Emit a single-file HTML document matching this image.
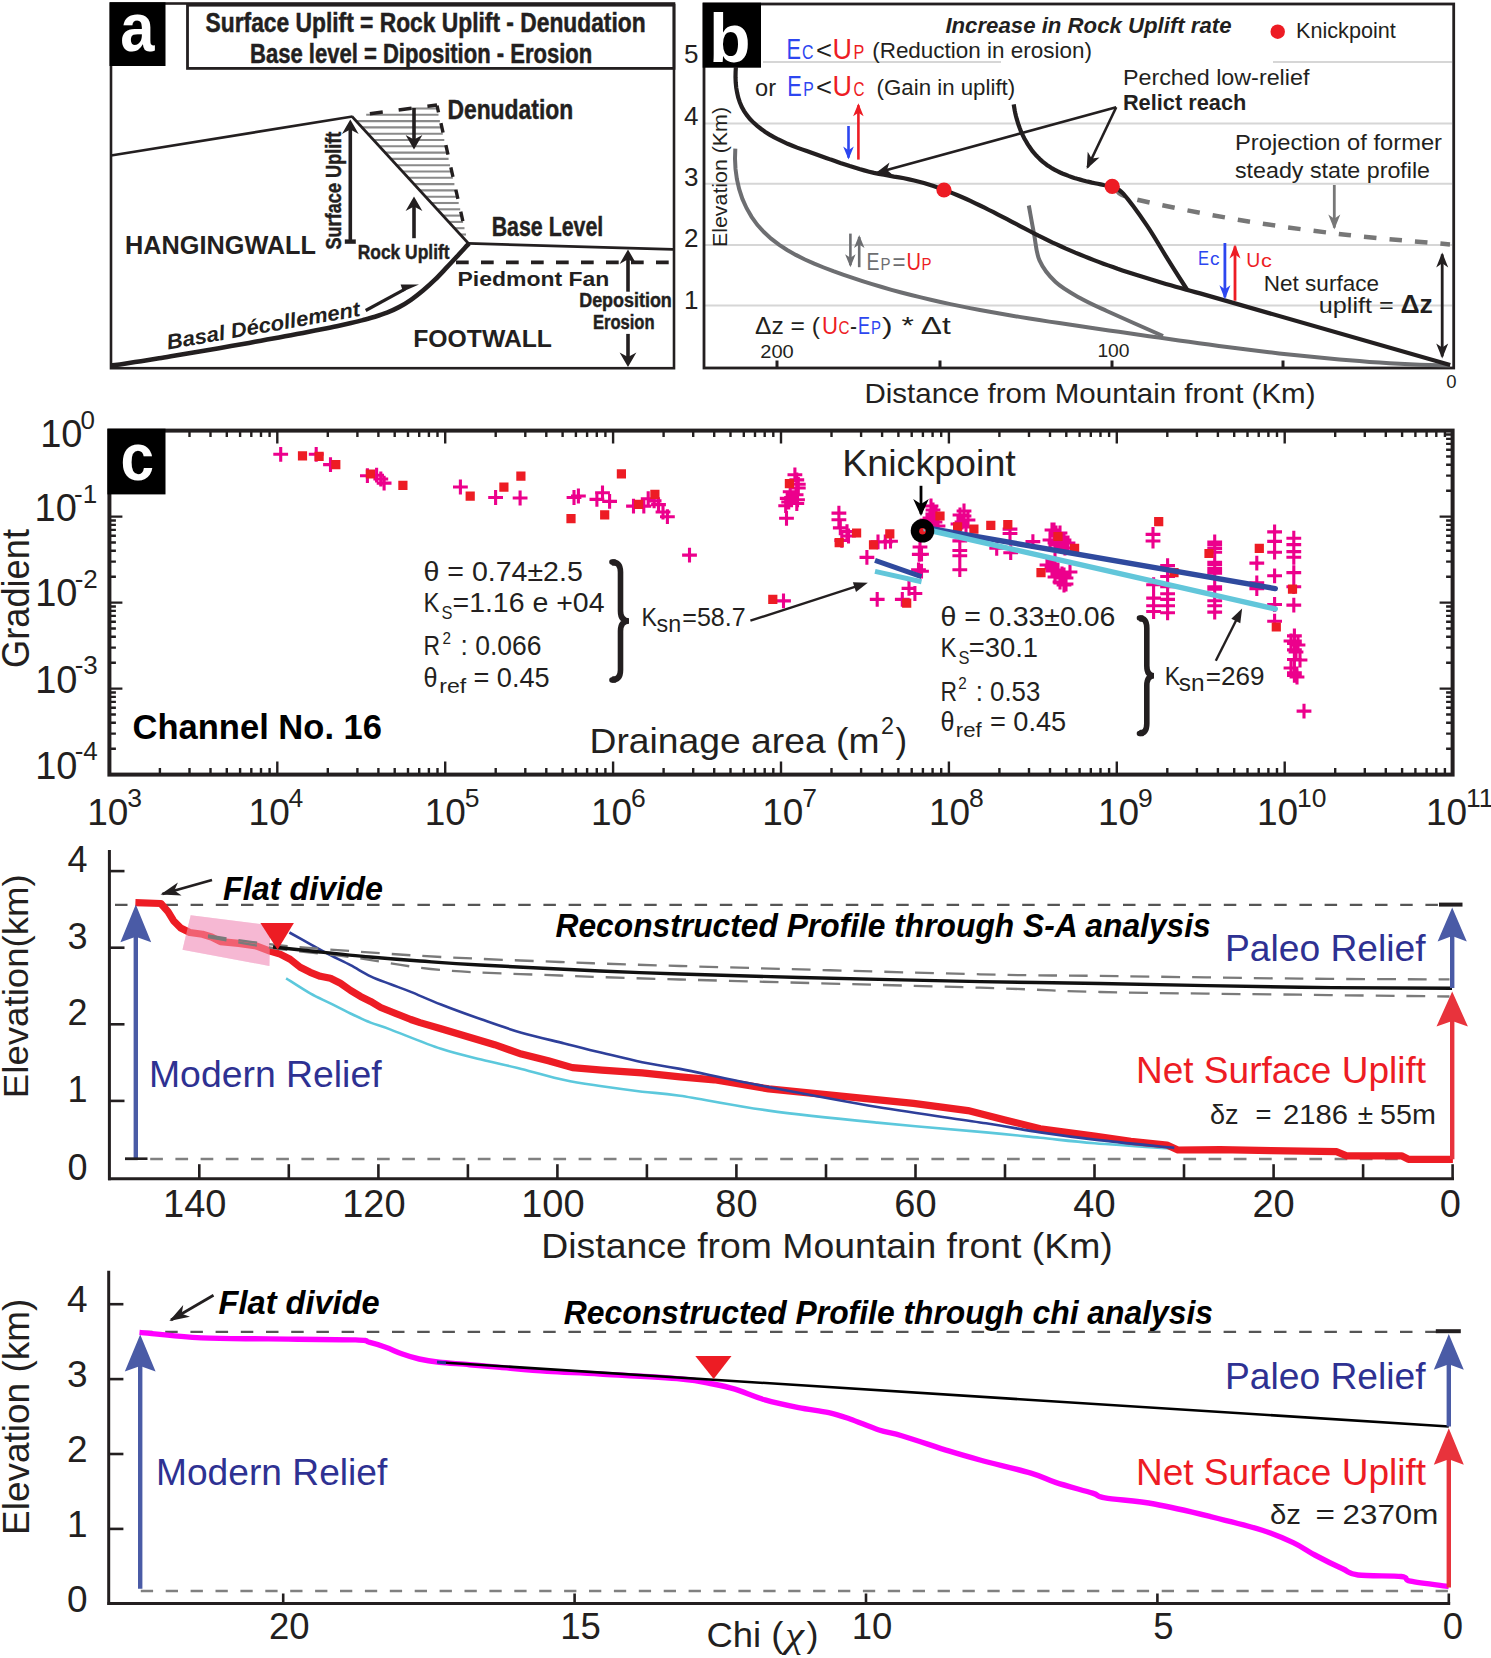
<!DOCTYPE html>
<html><head><meta charset="utf-8"><style>
html,body{margin:0;padding:0;background:#fff;}
svg{display:block;font-family:"Liberation Sans", sans-serif;}
</style></head><body>
<svg width="1491" height="1658" viewBox="0 0 1491 1658">
<rect width="1491" height="1658" fill="#fff"/>
<rect x="111" y="3.5" width="563" height="364.7" fill="none" stroke="#231f20" stroke-width="2.6"/>
<rect x="109.5" y="2.3" width="56" height="63.7" fill="#000"/>
<text x="120.3" y="51.0" font-size="69" fill="#fff" font-weight="bold" textLength="34.2" lengthAdjust="spacingAndGlyphs" >a</text>
<rect x="187.5" y="5.2" width="486.5" height="63.2" fill="none" stroke="#231f20" stroke-width="2.8"/>
<text x="205.6" y="31.5" font-size="27.5" fill="#231f20" font-weight="bold" textLength="440.0" lengthAdjust="spacingAndGlyphs" stroke="#231f20" stroke-width="0.5">Surface Uplift = Rock Uplift - Denudation</text>
<text x="250.0" y="63.0" font-size="27.5" fill="#231f20" font-weight="bold" textLength="342.3" lengthAdjust="spacingAndGlyphs" stroke="#231f20" stroke-width="0.5">Base level = Diposition - Erosion</text>
<line x1="406.9" y1="108.5" x2="437.0" y2="108.5" stroke="#8a8a8a" stroke-width="2.1" />
<line x1="366.2" y1="114.8" x2="438.5" y2="114.8" stroke="#8a8a8a" stroke-width="2.1" />
<line x1="355.8" y1="121.1" x2="439.9" y2="121.1" stroke="#8a8a8a" stroke-width="2.1" />
<line x1="361.6" y1="127.4" x2="441.4" y2="127.4" stroke="#8a8a8a" stroke-width="2.1" />
<line x1="367.4" y1="133.7" x2="442.8" y2="133.7" stroke="#8a8a8a" stroke-width="2.1" />
<line x1="373.2" y1="140.0" x2="444.3" y2="140.0" stroke="#8a8a8a" stroke-width="2.1" />
<line x1="379.0" y1="146.3" x2="445.7" y2="146.3" stroke="#8a8a8a" stroke-width="2.1" />
<line x1="384.8" y1="152.6" x2="447.2" y2="152.6" stroke="#8a8a8a" stroke-width="2.1" />
<line x1="390.6" y1="158.9" x2="448.6" y2="158.9" stroke="#8a8a8a" stroke-width="2.1" />
<line x1="396.4" y1="165.2" x2="450.0" y2="165.2" stroke="#8a8a8a" stroke-width="2.1" />
<line x1="402.2" y1="171.5" x2="451.5" y2="171.5" stroke="#8a8a8a" stroke-width="2.1" />
<line x1="408.0" y1="177.8" x2="452.9" y2="177.8" stroke="#8a8a8a" stroke-width="2.1" />
<line x1="413.8" y1="184.1" x2="454.4" y2="184.1" stroke="#8a8a8a" stroke-width="2.1" />
<line x1="419.6" y1="190.4" x2="455.8" y2="190.4" stroke="#8a8a8a" stroke-width="2.1" />
<line x1="425.4" y1="196.7" x2="457.3" y2="196.7" stroke="#8a8a8a" stroke-width="2.1" />
<line x1="431.2" y1="203.0" x2="458.7" y2="203.0" stroke="#8a8a8a" stroke-width="2.1" />
<line x1="437.0" y1="209.3" x2="460.2" y2="209.3" stroke="#8a8a8a" stroke-width="2.1" />
<line x1="442.8" y1="215.6" x2="461.6" y2="215.6" stroke="#8a8a8a" stroke-width="2.1" />
<line x1="448.6" y1="221.9" x2="463.1" y2="221.9" stroke="#8a8a8a" stroke-width="2.1" />
<line x1="454.4" y1="228.2" x2="464.5" y2="228.2" stroke="#8a8a8a" stroke-width="2.1" />
<line x1="460.2" y1="234.5" x2="466.0" y2="234.5" stroke="#8a8a8a" stroke-width="2.1" />
<path d="M356,115.5 L437,105" stroke="#231f20" stroke-width="3.4" fill="none" stroke-dasharray="0,14,13,16,13,16,10,40"/>
<path d="M437,105.5 L463.5,224" stroke="#231f20" stroke-width="3.4" fill="none" stroke-dasharray="7,11,9.7,13,9.7,13,9.7,13,9.7,13,9.7,13,9.7,13"/>
<line x1="111.0" y1="155.5" x2="352.5" y2="116.5" stroke="#231f20" stroke-width="2.7" />
<line x1="352.0" y1="116.5" x2="468.5" y2="243.5" stroke="#231f20" stroke-width="2.6" />
<line x1="468.0" y1="243.4" x2="673.0" y2="249.4" stroke="#231f20" stroke-width="2.8" />
<line x1="456.0" y1="262.4" x2="673.0" y2="262.4" stroke="#231f20" stroke-width="3.6" stroke-dasharray="12.7,12.3"/>
<path d="M111.0,365.5 C113.0,365.2 119.0,364.6 123.0,364.0 C127.0,363.4 131.0,362.7 135.0,362.1 C139.0,361.5 143.0,360.8 147.0,360.2 C151.0,359.6 155.0,358.9 159.0,358.3 C163.0,357.7 167.0,357.0 171.0,356.3 C175.0,355.6 179.0,355.0 183.0,354.3 C187.0,353.6 191.0,353.0 195.0,352.3 C199.0,351.6 203.0,350.9 207.0,350.2 C211.0,349.5 215.0,348.9 219.0,348.2 C223.0,347.5 227.0,346.8 231.0,346.1 C235.0,345.4 239.0,344.7 243.0,344.0 C247.0,343.3 251.0,342.5 255.0,341.8 C259.0,341.1 263.0,340.3 267.0,339.6 C271.0,338.9 275.0,338.1 279.0,337.4 C283.0,336.7 287.0,335.9 291.0,335.2 C295.0,334.4 299.0,333.7 303.0,332.9 C307.0,332.1 311.0,331.4 315.0,330.6 C319.0,329.8 323.0,329.0 327.0,328.2 C331.0,327.4 335.0,326.6 339.0,325.7 C343.0,324.8 347.0,323.9 351.0,323.0 C355.0,322.1 359.0,321.2 363.0,320.1 C367.0,319.1 371.0,317.9 375.0,316.7 C379.0,315.5 383.0,314.3 387.0,312.7 C391.0,311.1 395.0,309.2 399.0,307.1 C403.0,305.0 407.0,302.6 411.0,299.8 C415.0,297.1 419.0,294.0 423.0,290.6 C427.0,287.2 431.0,283.6 435.0,279.7 C439.0,275.8 443.0,271.4 447.0,267.2 C451.0,263.0 455.3,258.3 459.0,254.3 C462.7,250.3 467.3,245.2 469.0,243.4" stroke="#231f20" stroke-width="4.6" fill="none" stroke-linecap="butt"/>
<line x1="365.7" y1="310.5" x2="405.0" y2="289.2" stroke="#231f20" stroke-width="3.2" />
<path d="M400.6,284.6 L419,284.6 L403,291.5 Z" fill="#231f20"/>
<line x1="350.3" y1="241.6" x2="350.3" y2="128.5" stroke="#231f20" stroke-width="3.6" />
<path d="M350.3,119.5 L358.7,134.0 L350.3,129.4 L341.9,134.0 Z" fill="#231f20"/>
<line x1="344.8" y1="241.6" x2="355.8" y2="241.6" stroke="#231f20" stroke-width="4.4" />
<line x1="414.0" y1="238.2" x2="414.0" y2="205.6" stroke="#231f20" stroke-width="3.6" />
<path d="M414.0,196.6 L422.4,211.1 L414.0,206.5 L405.6,211.1 Z" fill="#231f20"/>
<line x1="414.0" y1="108.0" x2="414.0" y2="140.5" stroke="#231f20" stroke-width="3.6" />
<path d="M414.0,149.5 L422.4,135.0 L414.0,139.6 L405.6,135.0 Z" fill="#231f20"/>
<line x1="628.0" y1="291.7" x2="628.0" y2="258.4" stroke="#231f20" stroke-width="3.6" />
<path d="M628.0,249.4 L636.4,263.9 L628.0,259.3 L619.6,263.9 Z" fill="#231f20"/>
<line x1="628.0" y1="333.9" x2="628.0" y2="358.0" stroke="#231f20" stroke-width="3.6" />
<path d="M628.0,367.0 L636.4,352.5 L628.0,357.1 L619.6,352.5 Z" fill="#231f20"/>
<text x="447.4" y="118.7" font-size="27" fill="#231f20" font-weight="bold" textLength="125.8" lengthAdjust="spacingAndGlyphs" stroke="#231f20" stroke-width="0.45">Denudation</text>
<text x="125.0" y="253.5" font-size="26" fill="#231f20" font-weight="bold" textLength="191.0" lengthAdjust="spacingAndGlyphs" >HANGINGWALL</text>
<text x="357.7" y="259.0" font-size="21" fill="#231f20" font-weight="bold" textLength="91.9" lengthAdjust="spacingAndGlyphs" stroke="#231f20" stroke-width="0.45">Rock Uplift</text>
<text x="491.7" y="236.3" font-size="27" fill="#231f20" font-weight="bold" textLength="111.6" lengthAdjust="spacingAndGlyphs" stroke="#231f20" stroke-width="0.45">Base Level</text>
<text x="457.5" y="286.2" font-size="20.5" fill="#231f20" font-weight="bold" textLength="151.9" lengthAdjust="spacingAndGlyphs" >Piedmont Fan</text>
<text x="579.2" y="307.2" font-size="20" fill="#231f20" font-weight="bold" textLength="92.6" lengthAdjust="spacingAndGlyphs" stroke="#231f20" stroke-width="0.45">Deposition</text>
<text x="592.9" y="328.9" font-size="19.5" fill="#231f20" font-weight="bold" textLength="61.7" lengthAdjust="spacingAndGlyphs" stroke="#231f20" stroke-width="0.45">Erosion</text>
<text x="413.2" y="347.4" font-size="24" fill="#231f20" font-weight="bold" textLength="138.8" lengthAdjust="spacingAndGlyphs" >FOOTWALL</text>
<text transform="translate(341,249.6) rotate(-90)" font-size="22" font-weight="bold" fill="#231f20" textLength="118" lengthAdjust="spacingAndGlyphs" stroke="#231f20" stroke-width="0.45">Surface Uplift</text>
<text transform="translate(168,349.5) rotate(-9.9)" font-size="21" font-weight="bold" font-style="italic" fill="#231f20" textLength="196" lengthAdjust="spacingAndGlyphs">Basal Décollement</text>
<line x1="763.0" y1="62.0" x2="1001.0" y2="62.0" stroke="#d6d6d6" stroke-width="2" />
<line x1="1273.0" y1="62.0" x2="1452.0" y2="62.0" stroke="#d6d6d6" stroke-width="2" />
<line x1="705.0" y1="123.4" x2="1452.0" y2="123.4" stroke="#d6d6d6" stroke-width="2" />
<line x1="705.0" y1="183.8" x2="1452.0" y2="183.8" stroke="#d6d6d6" stroke-width="2" />
<line x1="705.0" y1="245.0" x2="1452.0" y2="245.0" stroke="#d6d6d6" stroke-width="2" />
<line x1="705.0" y1="305.6" x2="1452.0" y2="305.6" stroke="#d6d6d6" stroke-width="2" />
<rect x="704" y="4" width="749.7" height="364" fill="none" stroke="#231f20" stroke-width="2.8"/>
<rect x="702.7" y="2.7" width="58.3" height="65" fill="#000"/>
<text x="729.8" y="62.4" font-size="68" fill="#fff" font-weight="bold" text-anchor="middle" >b</text>
<line x1="777.0" y1="368.0" x2="777.0" y2="360.5" stroke="#231f20" stroke-width="3" />
<line x1="940.0" y1="368.0" x2="940.0" y2="360.5" stroke="#231f20" stroke-width="3" />
<line x1="1112.0" y1="368.0" x2="1112.0" y2="360.5" stroke="#231f20" stroke-width="3" />
<line x1="1283.0" y1="368.0" x2="1283.0" y2="360.5" stroke="#231f20" stroke-width="3" />
<text x="698.5" y="63.0" font-size="26" fill="#231f20" text-anchor="end" >5</text>
<text x="698.5" y="124.7" font-size="26" fill="#231f20" text-anchor="end" >4</text>
<text x="698.5" y="186.4" font-size="26" fill="#231f20" text-anchor="end" >3</text>
<text x="698.5" y="247.0" font-size="26" fill="#231f20" text-anchor="end" >2</text>
<text x="698.5" y="308.7" font-size="26" fill="#231f20" text-anchor="end" >1</text>
<text transform="translate(727,247) rotate(-90)" font-size="20" fill="#231f20" textLength="140" lengthAdjust="spacingAndGlyphs">Elevation (Km)</text>
<path d="M735.3,148.6 L735.0,158.7 L735.5,168.9 L736.9,179.2 L739.2,189.2 L742.4,198.9 L746.6,208.2 L751.6,216.8 L757.3,224.8 L763.9,232.0 L771.1,238.6 L778.9,244.6 L787.1,250.0 L795.8,254.9 L804.9,259.5 L814.2,263.6 L823.7,267.5 L833.3,271.2 L843.0,274.6 L852.7,277.9 L862.4,281.1 L872.1,284.1 L881.8,287.0 L891.5,289.8 L901.3,292.5 L911.1,295.0 L920.9,297.4 L930.7,299.7 L940.5,302.0 L950.3,304.1 L960.2,306.1 L970.0,308.1 L979.9,310.0 L989.7,311.8 L999.6,313.5 L1009.5,315.2 L1019.4,316.9 L1029.4,318.5 L1039.3,320.0 L1049.2,321.6 L1059.2,323.1 L1069.1,324.5 L1079.1,326.0 L1089.0,327.5 L1099.0,328.9 L1109.0,330.4 L1118.9,331.8 L1128.9,333.3 L1138.9,334.7 L1148.9,336.2 L1158.9,337.6 L1168.9,339.0 L1178.9,340.4 L1188.9,341.8 L1198.9,343.2 L1208.9,344.6 L1218.9,345.9 L1229.0,347.2 L1239.0,348.5 L1249.0,349.8 L1259.0,351.0 L1269.1,352.2 L1279.1,353.4 L1289.1,354.5 L1299.2,355.6 L1309.2,356.6 L1319.3,357.6 L1329.3,358.6 L1339.4,359.5 L1349.4,360.3 L1359.5,361.1 L1369.5,361.9 L1379.6,362.6 L1389.6,363.2 L1399.7,363.7 L1409.7,364.2 L1419.8,364.7 L1429.8,365.0 L1439.9,365.3 L1449.9,365.5" stroke="#6d6e71" stroke-width="4" fill="none" />
<path d="M1028.8,205.5 C1029.7,210.2 1032.2,224.4 1034.0,233.6 C1035.8,242.8 1035.9,252.3 1039.5,260.4 C1043.1,268.5 1048.8,275.7 1055.6,282.0 C1062.3,288.3 1071.5,293.2 1080.0,298.0 C1088.5,302.8 1093.0,304.7 1106.8,311.0 C1120.6,317.3 1153.6,331.8 1163.0,336.0" stroke="#6d6e71" stroke-width="4" fill="none" />
<path d="M1116.0,188.5 C1118.9,190.2 1112.8,193.5 1133.6,198.8 C1154.4,204.1 1205.3,214.2 1241.0,220.2 C1276.7,226.2 1313.2,231.0 1348.0,235.0 C1382.8,239.0 1433.0,242.8 1450.0,244.4" stroke="#777" stroke-width="4.5" fill="none" stroke-dasharray="12.5,13"/>
<path d="M735.9,66.8 L735.6,72.0 L735.5,77.2 L735.7,82.3 L736.2,87.5 L737.1,92.5 L738.2,97.5 L739.8,102.2 L741.7,106.8 L744.1,111.1 L746.9,115.2 L750.0,119.0 L753.5,122.6 L757.2,125.9 L761.2,129.0 L765.3,131.9 L769.5,134.6 L773.9,137.1 L778.4,139.5 L783.0,141.7 L787.6,143.8 L792.4,145.7 L797.1,147.6 L802.0,149.4 L806.8,151.1 L811.6,152.8 L816.5,154.5 L821.3,156.2 L826.1,157.9 L830.8,159.6 L835.6,161.2 L840.3,162.9 L845.1,164.5 L849.8,166.1 L854.6,167.6 L859.4,169.1 L864.2,170.4 L869.1,171.7 L874.0,172.9 L878.9,173.9 L883.9,174.8 L889.0,175.7 L894.0,176.6 L899.1,177.4 L904.1,178.3 L909.1,179.4 L914.1,180.5 L919.0,181.7 L923.9,183.1 L928.7,184.5 L933.5,186.1 L938.3,187.7 L943.0,189.4 L947.7,191.2 L952.4,193.1 L957.0,195.0 L961.7,197.0 L966.3,199.0 L970.9,201.1 L975.4,203.3 L980.0,205.5 L984.5,207.7 L989.0,210.0 L993.5,212.2 L998.0,214.6 L1002.5,216.9 L1007.0,219.2 L1011.5,221.6 L1016.0,223.9 L1020.5,226.3 L1025.0,228.6 L1029.5,231.0 L1034.0,233.3 L1038.5,235.6 L1043.1,237.8 L1047.6,240.1 L1052.1,242.3 L1056.7,244.4 L1061.3,246.5 L1065.9,248.6 L1070.6,250.6 L1075.2,252.6 L1079.9,254.5 L1084.5,256.4 L1089.2,258.3 L1093.9,260.1 L1098.6,261.9 L1103.4,263.7 L1108.1,265.4 L1112.9,267.1 L1117.6,268.8 L1122.4,270.4 L1127.2,272.0 L1132.0,273.6 L1136.8,275.1 L1141.7,276.6 L1146.5,278.1 L1151.3,279.6 L1156.2,281.1 L1161.0,282.5 L1165.9,283.9 L1170.8,285.3 L1175.6,286.7 L1180.5,288.1 L1185.4,289.4 L1190.3,290.8 L1195.2,292.1 L1200.1,293.4 L1450.2,365.1" stroke="#231f20" stroke-width="4.2" fill="none" />
<path d="M1013.7,104.4 L1014.2,107.4 L1014.7,110.4 L1015.3,113.3 L1016.0,116.3 L1016.8,119.2 L1017.7,122.1 L1018.6,125.0 L1019.6,127.8 L1020.7,130.6 L1021.9,133.4 L1023.2,136.1 L1024.5,138.7 L1026.0,141.3 L1027.5,143.9 L1029.1,146.3 L1030.8,148.7 L1032.5,151.1 L1034.4,153.3 L1036.3,155.5 L1038.3,157.6 L1040.4,159.7 L1042.6,161.6 L1044.9,163.4 L1047.2,165.2 L1049.7,166.8 L1052.2,168.4 L1054.8,169.8 L1057.4,171.2 L1060.1,172.5 L1062.9,173.7 L1065.7,174.8 L1068.5,175.9 L1071.4,176.9 L1074.3,177.9 L1077.2,178.8 L1080.2,179.6 L1083.1,180.4 L1086.1,181.2 L1089.0,181.9 L1092.0,182.6 L1094.9,183.2 L1097.8,183.8 L1100.7,184.4 L1103.6,185.0 L1106.4,185.5 L1109.2,186.1 L1112.0,186.6" stroke="#231f20" stroke-width="4.2" fill="none" />
<path d="M1112.2,186.4 C1114.0,187.6 1117.2,186.9 1123.0,193.4 C1128.8,199.9 1139.4,214.4 1147.0,225.6 C1154.6,236.8 1161.8,249.7 1168.5,260.4 C1175.2,271.1 1184.2,285.1 1187.3,290.0" stroke="#231f20" stroke-width="4.2" fill="none" />
<circle cx="944" cy="190" r="7.6" fill="#ed1c24"/>
<circle cx="1112.2" cy="186.4" r="7.6" fill="#ed1c24"/>
<circle cx="1277.7" cy="31.7" r="7.2" fill="#ed1c24"/>
<text x="1296.0" y="37.6" font-size="21.5" fill="#231f20" textLength="99.8" lengthAdjust="spacingAndGlyphs" >Knickpoint</text>
<line x1="1116.2" y1="107.3" x2="877.7" y2="172.5" stroke="#231f20" stroke-width="2.6" />
<path d="M875.8,173.0 L889.5,162.5 L886.9,170.0 L892.9,175.1 Z" fill="#231f20"/>
<line x1="1116.2" y1="107.3" x2="1087.6" y2="167.2" stroke="#231f20" stroke-width="2.6" />
<path d="M1086.7,169.0 L1087.7,151.8 L1091.7,158.6 L1099.5,157.4 Z" fill="#231f20"/>
<line x1="848.5" y1="126.0" x2="848.5" y2="157.6" stroke="#2d46f0" stroke-width="2.6" />
<path d="M848.5,159.6 L843.2,146.6 L848.5,150.2 L853.8,146.6 Z" fill="#2d46f0"/>
<line x1="858.4" y1="159.6" x2="858.4" y2="105.3" stroke="#ed1c24" stroke-width="2.6" />
<path d="M858.4,103.3 L863.6,116.3 L858.4,112.7 L853.1,116.3 Z" fill="#ed1c24"/>
<line x1="850.4" y1="233.6" x2="850.4" y2="265.2" stroke="#6d6e71" stroke-width="2.6" />
<path d="M850.4,267.2 L845.1,254.2 L850.4,257.8 L855.6,254.2 Z" fill="#6d6e71"/>
<line x1="859.2" y1="267.2" x2="859.2" y2="237.0" stroke="#6d6e71" stroke-width="2.6" />
<path d="M859.2,235.0 L864.5,248.0 L859.2,244.4 L854.0,248.0 Z" fill="#6d6e71"/>
<line x1="1224.9" y1="243.0" x2="1224.9" y2="297.3" stroke="#2d46f0" stroke-width="2.8" />
<path d="M1224.9,299.3 L1219.4,285.3 L1224.9,289.2 L1230.4,285.3 Z" fill="#2d46f0"/>
<line x1="1235.0" y1="300.7" x2="1235.0" y2="246.4" stroke="#ed1c24" stroke-width="2.8" />
<path d="M1235.0,244.4 L1240.5,258.4 L1235.0,254.5 L1229.5,258.4 Z" fill="#ed1c24"/>
<line x1="1334.3" y1="185.0" x2="1334.3" y2="227.6" stroke="#777" stroke-width="2.8" />
<path d="M1334.3,229.6 L1328.3,214.6 L1334.3,218.8 L1340.3,214.6 Z" fill="#777"/>
<line x1="1442.2" y1="305.0" x2="1442.2" y2="254.4" stroke="#231f20" stroke-width="2.8" />
<path d="M1442.2,252.4 L1448.2,267.4 L1442.2,263.2 L1436.2,267.4 Z" fill="#231f20"/>
<line x1="1442.2" y1="305.0" x2="1442.2" y2="356.4" stroke="#231f20" stroke-width="2.8" />
<path d="M1442.2,358.4 L1436.2,343.4 L1442.2,347.6 L1448.2,343.4 Z" fill="#231f20"/>
<text x="945.4" y="33.1" font-size="22.5" fill="#231f20" font-weight="bold" font-style="italic" textLength="286.2" lengthAdjust="spacingAndGlyphs" >Increase in Rock Uplift rate</text>
<text x="786.6" y="59.0" font-size="30" fill="#2d46f0" textLength="14.5" lengthAdjust="spacingAndGlyphs" >E</text>
<text x="802.0" y="59.0" font-size="21" fill="#2d46f0" textLength="11.5" lengthAdjust="spacingAndGlyphs" >C</text>
<text x="816.0" y="59.0" font-size="26" fill="#231f20" textLength="16.0" lengthAdjust="spacingAndGlyphs" >&lt;</text>
<text x="832.5" y="59.0" font-size="30" fill="#ed1c24" textLength="19.5" lengthAdjust="spacingAndGlyphs" >U</text>
<text x="853.6" y="59.0" font-size="21" fill="#ed1c24" textLength="10.8" lengthAdjust="spacingAndGlyphs" >P</text>
<text x="872.2" y="58.4" font-size="22" fill="#231f20" textLength="219.7" lengthAdjust="spacingAndGlyphs" >(Reduction in erosion)</text>
<text x="755.0" y="96.0" font-size="24" fill="#231f20" textLength="21.0" lengthAdjust="spacingAndGlyphs" >or</text>
<text x="787.2" y="96.0" font-size="30" fill="#2d46f0" textLength="14.5" lengthAdjust="spacingAndGlyphs" >E</text>
<text x="803.3" y="96.0" font-size="21" fill="#2d46f0" textLength="10.5" lengthAdjust="spacingAndGlyphs" >P</text>
<text x="816.0" y="96.0" font-size="26" fill="#231f20" textLength="16.0" lengthAdjust="spacingAndGlyphs" >&lt;</text>
<text x="832.5" y="96.0" font-size="30" fill="#ed1c24" textLength="19.5" lengthAdjust="spacingAndGlyphs" >U</text>
<text x="853.6" y="96.0" font-size="21" fill="#ed1c24" textLength="11.0" lengthAdjust="spacingAndGlyphs" >C</text>
<text x="876.6" y="95.0" font-size="22" fill="#231f20" textLength="138.6" lengthAdjust="spacingAndGlyphs" >(Gain in uplift)</text>
<text x="1122.9" y="84.5" font-size="22.5" fill="#231f20" textLength="186.5" lengthAdjust="spacingAndGlyphs" >Perched low-relief</text>
<text x="1122.9" y="110.0" font-size="22.5" fill="#231f20" font-weight="bold" textLength="123.4" lengthAdjust="spacingAndGlyphs" >Relict reach</text>
<text x="1235.0" y="150.0" font-size="22.5" fill="#231f20" textLength="207.0" lengthAdjust="spacingAndGlyphs" >Projection of former</text>
<text x="1235.0" y="178.4" font-size="22.5" fill="#231f20" textLength="195.0" lengthAdjust="spacingAndGlyphs" >steady state profile</text>
<text x="1263.8" y="291.3" font-size="22.5" fill="#231f20" textLength="115.2" lengthAdjust="spacingAndGlyphs" >Net surface</text>
<text x="1318.8" y="312.7" font-size="22.5" fill="#231f20" textLength="75.0" lengthAdjust="spacingAndGlyphs" >uplift =</text>
<text x="1400.4" y="312.7" font-size="26" fill="#231f20" font-weight="bold" textLength="32.4" lengthAdjust="spacingAndGlyphs" >Δz</text>
<text x="866.5" y="269.9" font-size="23" fill="#6d6e71" textLength="13.0" lengthAdjust="spacingAndGlyphs" >E</text>
<text x="880.5" y="269.9" font-size="17" fill="#6d6e71" textLength="10.0" lengthAdjust="spacingAndGlyphs" >P</text>
<text x="892.5" y="269.9" font-size="23" fill="#6d6e71" textLength="13.0" lengthAdjust="spacingAndGlyphs" >=</text>
<text x="906.5" y="269.9" font-size="23" fill="#ed1c24" textLength="14.5" lengthAdjust="spacingAndGlyphs" >U</text>
<text x="921.5" y="269.9" font-size="17" fill="#ed1c24" textLength="10.0" lengthAdjust="spacingAndGlyphs" >P</text>
<text x="1198.0" y="265.3" font-size="21" fill="#2d46f0" textLength="11.0" lengthAdjust="spacingAndGlyphs" >E</text>
<text x="1210.0" y="265.3" font-size="19" fill="#2d46f0" textLength="9.5" lengthAdjust="spacingAndGlyphs" >c</text>
<text x="1246.3" y="267.2" font-size="21" fill="#ed1c24" textLength="14.0" lengthAdjust="spacingAndGlyphs" >U</text>
<text x="1261.0" y="267.2" font-size="19" fill="#ed1c24" textLength="10.8" lengthAdjust="spacingAndGlyphs" >c</text>
<text x="755.0" y="334.0" font-size="24" fill="#231f20" textLength="65.0" lengthAdjust="spacingAndGlyphs" >Δz = (</text>
<text x="822.0" y="334.0" font-size="24" fill="#ed1c24" textLength="16.0" lengthAdjust="spacingAndGlyphs" >U</text>
<text x="838.5" y="334.0" font-size="18" fill="#ed1c24" textLength="11.0" lengthAdjust="spacingAndGlyphs" >C</text>
<text x="850.0" y="334.0" font-size="24" fill="#231f20" textLength="7.0" lengthAdjust="spacingAndGlyphs" >-</text>
<text x="858.0" y="334.0" font-size="24" fill="#2d46f0" textLength="12.0" lengthAdjust="spacingAndGlyphs" >E</text>
<text x="871.0" y="334.0" font-size="18" fill="#2d46f0" textLength="10.0" lengthAdjust="spacingAndGlyphs" >P</text>
<text x="882.0" y="334.0" font-size="24" fill="#231f20" textLength="68.8" lengthAdjust="spacingAndGlyphs" >) * Δt</text>
<text x="777.0" y="358.0" font-size="18.5" fill="#231f20" text-anchor="middle" textLength="33.5" lengthAdjust="spacingAndGlyphs" >200</text>
<text x="1113.5" y="357.0" font-size="18.5" fill="#231f20" text-anchor="middle" textLength="32.2" lengthAdjust="spacingAndGlyphs" >100</text>
<text x="1451.3" y="388.0" font-size="18.5" fill="#231f20" text-anchor="middle" >0</text>
<text x="864.5" y="402.5" font-size="28.5" fill="#231f20" textLength="451.0" lengthAdjust="spacingAndGlyphs" >Distance from Mountain front (Km)</text>
<path d="M159.9,430.6 v6.5 M159.9,774.6 v-6.5 M189.5,430.6 v6.5 M189.5,774.6 v-6.5 M210.5,430.6 v6.5 M210.5,774.6 v-6.5 M226.8,430.6 v6.5 M226.8,774.6 v-6.5 M240.1,430.6 v6.5 M240.1,774.6 v-6.5 M251.3,430.6 v6.5 M251.3,774.6 v-6.5 M261.0,430.6 v6.5 M261.0,774.6 v-6.5 M269.6,430.6 v6.5 M269.6,774.6 v-6.5 M277.3,430.6 v13 M277.3,774.6 v-13 M327.8,430.6 v6.5 M327.8,774.6 v-6.5 M357.4,430.6 v6.5 M357.4,774.6 v-6.5 M378.4,430.6 v6.5 M378.4,774.6 v-6.5 M394.7,430.6 v6.5 M394.7,774.6 v-6.5 M408.0,430.6 v6.5 M408.0,774.6 v-6.5 M419.2,430.6 v6.5 M419.2,774.6 v-6.5 M428.9,430.6 v6.5 M428.9,774.6 v-6.5 M437.5,430.6 v6.5 M437.5,774.6 v-6.5 M445.2,430.6 v13 M445.2,774.6 v-13 M495.7,430.6 v6.5 M495.7,774.6 v-6.5 M525.3,430.6 v6.5 M525.3,774.6 v-6.5 M546.3,430.6 v6.5 M546.3,774.6 v-6.5 M562.6,430.6 v6.5 M562.6,774.6 v-6.5 M575.9,430.6 v6.5 M575.9,774.6 v-6.5 M587.1,430.6 v6.5 M587.1,774.6 v-6.5 M596.8,430.6 v6.5 M596.8,774.6 v-6.5 M605.4,430.6 v6.5 M605.4,774.6 v-6.5 M613.1,430.6 v13 M613.1,774.6 v-13 M663.6,430.6 v6.5 M663.6,774.6 v-6.5 M693.2,430.6 v6.5 M693.2,774.6 v-6.5 M714.2,430.6 v6.5 M714.2,774.6 v-6.5 M730.5,430.6 v6.5 M730.5,774.6 v-6.5 M743.8,430.6 v6.5 M743.8,774.6 v-6.5 M755.0,430.6 v6.5 M755.0,774.6 v-6.5 M764.7,430.6 v6.5 M764.7,774.6 v-6.5 M773.3,430.6 v6.5 M773.3,774.6 v-6.5 M781.0,430.6 v13 M781.0,774.6 v-13 M831.5,430.6 v6.5 M831.5,774.6 v-6.5 M861.1,430.6 v6.5 M861.1,774.6 v-6.5 M882.1,430.6 v6.5 M882.1,774.6 v-6.5 M898.4,430.6 v6.5 M898.4,774.6 v-6.5 M911.7,430.6 v6.5 M911.7,774.6 v-6.5 M922.9,430.6 v6.5 M922.9,774.6 v-6.5 M932.6,430.6 v6.5 M932.6,774.6 v-6.5 M941.2,430.6 v6.5 M941.2,774.6 v-6.5 M948.9,430.6 v13 M948.9,774.6 v-13 M999.4,430.6 v6.5 M999.4,774.6 v-6.5 M1029.0,430.6 v6.5 M1029.0,774.6 v-6.5 M1050.0,430.6 v6.5 M1050.0,774.6 v-6.5 M1066.3,430.6 v6.5 M1066.3,774.6 v-6.5 M1079.6,430.6 v6.5 M1079.6,774.6 v-6.5 M1090.8,430.6 v6.5 M1090.8,774.6 v-6.5 M1100.5,430.6 v6.5 M1100.5,774.6 v-6.5 M1109.1,430.6 v6.5 M1109.1,774.6 v-6.5 M1116.8,430.6 v13 M1116.8,774.6 v-13 M1167.3,430.6 v6.5 M1167.3,774.6 v-6.5 M1196.9,430.6 v6.5 M1196.9,774.6 v-6.5 M1217.9,430.6 v6.5 M1217.9,774.6 v-6.5 M1234.2,430.6 v6.5 M1234.2,774.6 v-6.5 M1247.5,430.6 v6.5 M1247.5,774.6 v-6.5 M1258.7,430.6 v6.5 M1258.7,774.6 v-6.5 M1268.4,430.6 v6.5 M1268.4,774.6 v-6.5 M1277.0,430.6 v6.5 M1277.0,774.6 v-6.5 M1284.7,430.6 v13 M1284.7,774.6 v-13 M1335.2,430.6 v6.5 M1335.2,774.6 v-6.5 M1364.8,430.6 v6.5 M1364.8,774.6 v-6.5 M1385.8,430.6 v6.5 M1385.8,774.6 v-6.5 M1402.1,430.6 v6.5 M1402.1,774.6 v-6.5 M1415.4,430.6 v6.5 M1415.4,774.6 v-6.5 M1426.6,430.6 v6.5 M1426.6,774.6 v-6.5 M1436.3,430.6 v6.5 M1436.3,774.6 v-6.5 M1444.9,430.6 v6.5 M1444.9,774.6 v-6.5 M109.4,748.7 h6.5 M1452.6,748.7 h-6.5 M109.4,733.6 h6.5 M1452.6,733.6 h-6.5 M109.4,722.8 h6.5 M1452.6,722.8 h-6.5 M109.4,714.5 h6.5 M1452.6,714.5 h-6.5 M109.4,707.7 h6.5 M1452.6,707.7 h-6.5 M109.4,701.9 h6.5 M1452.6,701.9 h-6.5 M109.4,696.9 h6.5 M1452.6,696.9 h-6.5 M109.4,692.5 h6.5 M1452.6,692.5 h-6.5 M109.4,688.6 h13 M1452.6,688.6 h-13 M109.4,662.7 h6.5 M1452.6,662.7 h-6.5 M109.4,647.6 h6.5 M1452.6,647.6 h-6.5 M109.4,636.8 h6.5 M1452.6,636.8 h-6.5 M109.4,628.5 h6.5 M1452.6,628.5 h-6.5 M109.4,621.7 h6.5 M1452.6,621.7 h-6.5 M109.4,615.9 h6.5 M1452.6,615.9 h-6.5 M109.4,610.9 h6.5 M1452.6,610.9 h-6.5 M109.4,606.5 h6.5 M1452.6,606.5 h-6.5 M109.4,602.6 h13 M1452.6,602.6 h-13 M109.4,576.7 h6.5 M1452.6,576.7 h-6.5 M109.4,561.6 h6.5 M1452.6,561.6 h-6.5 M109.4,550.8 h6.5 M1452.6,550.8 h-6.5 M109.4,542.5 h6.5 M1452.6,542.5 h-6.5 M109.4,535.7 h6.5 M1452.6,535.7 h-6.5 M109.4,529.9 h6.5 M1452.6,529.9 h-6.5 M109.4,524.9 h6.5 M1452.6,524.9 h-6.5 M109.4,520.5 h6.5 M1452.6,520.5 h-6.5 M109.4,516.6 h13 M1452.6,516.6 h-13 M109.4,490.7 h6.5 M1452.6,490.7 h-6.5 M109.4,475.6 h6.5 M1452.6,475.6 h-6.5 M109.4,464.8 h6.5 M1452.6,464.8 h-6.5 M109.4,456.5 h6.5 M1452.6,456.5 h-6.5 M109.4,449.7 h6.5 M1452.6,449.7 h-6.5 M109.4,443.9 h6.5 M1452.6,443.9 h-6.5 M109.4,438.9 h6.5 M1452.6,438.9 h-6.5 M109.4,434.5 h6.5 M1452.6,434.5 h-6.5" stroke="#231f20" stroke-width="2.4" fill="none" />
<rect x="109.4" y="430.6" width="1343.2" height="344.0" fill="none" stroke="#231f20" stroke-width="4"/>
<rect x="107.4" y="428.7" width="58.1" height="65.7" fill="#000"/>
<text x="120.4" y="479.8" font-size="67" fill="#fff" font-weight="bold" textLength="33.5" lengthAdjust="spacingAndGlyphs" >c</text>
<text x="40.2" y="447.4" font-size="38" fill="#231f20" >10</text>
<text x="80.5" y="428.5" font-size="26" fill="#231f20" >0</text>
<text x="34.5" y="521.0" font-size="38" fill="#231f20" >10</text>
<text x="74.0" y="502.5" font-size="26" fill="#231f20" >-1</text>
<text x="35.2" y="606.3" font-size="38" fill="#231f20" >10</text>
<text x="74.7" y="587.8" font-size="26" fill="#231f20" >-2</text>
<text x="35.2" y="692.5" font-size="38" fill="#231f20" >10</text>
<text x="74.7" y="674.0" font-size="26" fill="#231f20" >-3</text>
<text x="35.2" y="778.6" font-size="38" fill="#231f20" >10</text>
<text x="74.7" y="760.1" font-size="26" fill="#231f20" >-4</text>
<text transform="translate(29,668) rotate(-90)" font-size="38" fill="#231f20" textLength="139" lengthAdjust="spacingAndGlyphs">Gradient</text>
<text x="87.3" y="825.4" font-size="37" fill="#231f20" >10</text>
<text x="127.3" y="806.6" font-size="26.5" fill="#231f20" >3</text>
<text x="248.6" y="825.4" font-size="37" fill="#231f20" >10</text>
<text x="288.6" y="806.6" font-size="26.5" fill="#231f20" >4</text>
<text x="424.8" y="825.4" font-size="37" fill="#231f20" >10</text>
<text x="464.8" y="806.6" font-size="26.5" fill="#231f20" >5</text>
<text x="591.0" y="825.4" font-size="37" fill="#231f20" >10</text>
<text x="631.0" y="806.6" font-size="26.5" fill="#231f20" >6</text>
<text x="762.3" y="825.4" font-size="37" fill="#231f20" >10</text>
<text x="802.3" y="806.6" font-size="26.5" fill="#231f20" >7</text>
<text x="929.0" y="825.4" font-size="37" fill="#231f20" >10</text>
<text x="969.0" y="806.6" font-size="26.5" fill="#231f20" >8</text>
<text x="1098.0" y="825.4" font-size="37" fill="#231f20" >10</text>
<text x="1138.0" y="806.6" font-size="26.5" fill="#231f20" >9</text>
<text x="1257.0" y="825.4" font-size="37" fill="#231f20" >10</text>
<text x="1297.0" y="806.6" font-size="26.5" fill="#231f20" >10</text>
<text x="1426.0" y="825.4" font-size="37" fill="#231f20" >10</text>
<text x="1466.0" y="806.6" font-size="26.5" fill="#231f20" >11</text>
<path d="M273.3,454.3 h14.8 M280.7,446.9 v14.8 M308.8,454.3 h14.8 M316.2,446.9 v14.8 M323.1,464.6 h14.8 M330.5,457.2 v14.8 M360.0,475.7 h14.8 M367.4,468.3 v14.8 M369.2,475.2 h14.8 M376.6,467.8 v14.8 M373.4,479.0 h14.8 M380.8,471.6 v14.8 M376.7,483.1 h14.8 M384.1,475.7 v14.8 M453.0,487.0 h14.8 M460.4,479.6 v14.8 M488.2,497.5 h14.8 M495.6,490.1 v14.8 M512.7,498.0 h14.8 M520.1,490.6 v14.8 M566.6,497.5 h14.8 M574.0,490.1 v14.8 M571.0,496.0 h14.8 M578.4,488.6 v14.8 M589.5,499.4 h14.8 M596.9,492.0 v14.8 M595.1,492.8 h14.8 M602.5,485.4 v14.8 M602.2,501.4 h14.8 M609.6,494.0 v14.8 M626.1,506.1 h14.8 M633.5,498.7 v14.8 M636.4,506.1 h14.8 M643.8,498.7 v14.8 M640.8,498.7 h14.8 M648.2,491.3 v14.8 M646.7,500.9 h14.8 M654.1,493.5 v14.8 M651.1,504.6 h14.8 M658.5,497.2 v14.8 M655.6,512.0 h14.8 M663.0,504.6 v14.8 M660.0,516.7 h14.8 M667.4,509.3 v14.8 M682.1,555.1 h14.8 M689.5,547.7 v14.8 M787.5,474.8 h14.8 M794.9,467.4 v14.8 M789.4,479.9 h14.8 M796.8,472.5 v14.8 M790.9,484.3 h14.8 M798.3,476.9 v14.8 M790.9,488.0 h14.8 M798.3,480.6 v14.8 M782.8,491.7 h14.8 M790.2,484.3 v14.8 M788.7,494.7 h14.8 M796.1,487.3 v14.8 M784.2,497.6 h14.8 M791.6,490.2 v14.8 M790.1,499.8 h14.8 M797.5,492.4 v14.8 M779.8,498.4 h14.8 M787.2,491.0 v14.8 M781.3,502.0 h14.8 M788.7,494.6 v14.8 M778.3,505.7 h14.8 M785.7,498.3 v14.8 M789.4,503.5 h14.8 M796.8,496.1 v14.8 M779.1,518.3 h14.8 M786.5,510.9 v14.8 M831.5,513.1 h14.8 M838.9,505.7 v14.8 M831.5,519.8 h14.8 M838.9,512.4 v14.8 M832.9,527.9 h14.8 M840.3,520.5 v14.8 M839.6,531.6 h14.8 M847.0,524.2 v14.8 M841.1,536.0 h14.8 M848.5,528.6 v14.8 M834.4,540.4 h14.8 M841.8,533.0 v14.8 M859.5,557.4 h14.8 M866.9,550.0 v14.8 M870.6,541.9 h14.8 M878.0,534.5 v14.8 M877.9,541.9 h14.8 M885.3,534.5 v14.8 M883.1,541.2 h14.8 M890.5,533.8 v14.8 M869.8,599.4 h14.8 M877.2,592.0 v14.8 M894.9,599.4 h14.8 M902.3,592.0 v14.8 M907.5,593.5 h14.8 M914.9,586.1 v14.8 M901.6,588.4 h14.8 M909.0,581.0 v14.8 M911.9,554.4 h14.8 M919.3,547.0 v14.8 M911.1,569.9 h14.8 M918.5,562.5 v14.8 M912.6,547.0 h14.8 M920.0,539.6 v14.8 M776.1,600.9 h14.8 M783.5,593.5 v14.8 M925.6,510.0 h14.8 M933.0,502.6 v14.8 M922.6,518.0 h14.8 M930.0,510.6 v14.8 M927.6,522.0 h14.8 M935.0,514.6 v14.8 M920.6,525.0 h14.8 M928.0,517.6 v14.8 M956.6,516.0 h14.8 M964.0,508.6 v14.8 M954.6,522.0 h14.8 M962.0,514.6 v14.8 M958.6,527.0 h14.8 M966.0,519.6 v14.8 M1002.6,529.1 h14.8 M1010.0,521.7 v14.8 M1002.6,533.5 h14.8 M1010.0,526.1 v14.8 M952.4,540.9 h14.8 M959.8,533.5 v14.8 M952.4,550.5 h14.8 M959.8,543.1 v14.8 M952.4,555.7 h14.8 M959.8,548.3 v14.8 M952.4,569.7 h14.8 M959.8,562.3 v14.8 M989.3,548.3 h14.8 M996.7,540.9 v14.8 M1003.3,552.7 h14.8 M1010.7,545.3 v14.8 M1025.5,541.6 h14.8 M1032.9,534.2 v14.8 M1046.6,530.0 h14.8 M1054.0,522.6 v14.8 M1052.6,533.0 h14.8 M1060.0,525.6 v14.8 M1054.6,540.0 h14.8 M1062.0,532.6 v14.8 M1049.6,545.0 h14.8 M1057.0,537.6 v14.8 M1057.6,548.0 h14.8 M1065.0,540.6 v14.8 M1042.6,565.0 h14.8 M1050.0,557.6 v14.8 M1050.6,570.0 h14.8 M1058.0,562.6 v14.8 M1054.6,578.0 h14.8 M1062.0,570.6 v14.8 M1058.6,584.0 h14.8 M1066.0,576.6 v14.8 M1056.6,575.0 h14.8 M1064.0,567.6 v14.8 M1047.6,560.0 h14.8 M1055.0,552.6 v14.8 M914.1,554.2 h14.8 M921.5,546.8 v14.8 M914.1,571.2 h14.8 M921.5,563.8 v14.8 M1145.6,534.4 h14.8 M1153.0,527.0 v14.8 M1145.6,541.0 h14.8 M1153.0,533.6 v14.8 M1160.2,565.6 h14.8 M1167.6,558.2 v14.8 M1160.2,576.5 h14.8 M1167.6,569.1 v14.8 M1160.2,586.7 h14.8 M1167.6,579.3 v14.8 M1160.2,593.7 h14.8 M1167.6,586.3 v14.8 M1160.2,599.4 h14.8 M1167.6,592.0 v14.8 M1160.2,605.8 h14.8 M1167.6,598.4 v14.8 M1160.2,612.8 h14.8 M1167.6,605.4 v14.8 M1146.2,584.7 h14.8 M1153.6,577.3 v14.8 M1146.2,598.1 h14.8 M1153.6,590.7 v14.8 M1146.2,605.8 h14.8 M1153.6,598.4 v14.8 M1146.2,611.5 h14.8 M1153.6,604.1 v14.8 M1207.3,542.0 h14.8 M1214.7,534.6 v14.8 M1207.3,544.6 h14.8 M1214.7,537.2 v14.8 M1207.3,548.4 h14.8 M1214.7,541.0 v14.8 M1207.3,552.2 h14.8 M1214.7,544.8 v14.8 M1207.3,562.4 h14.8 M1214.7,555.0 v14.8 M1207.3,564.4 h14.8 M1214.7,557.0 v14.8 M1207.3,568.2 h14.8 M1214.7,560.8 v14.8 M1207.3,571.4 h14.8 M1214.7,564.0 v14.8 M1207.3,573.3 h14.8 M1214.7,565.9 v14.8 M1207.3,586.7 h14.8 M1214.7,579.3 v14.8 M1207.3,589.2 h14.8 M1214.7,581.8 v14.8 M1207.3,600.7 h14.8 M1214.7,593.3 v14.8 M1207.3,605.8 h14.8 M1214.7,598.4 v14.8 M1207.3,612.1 h14.8 M1214.7,604.7 v14.8 M1249.4,563.1 h14.8 M1256.8,555.7 v14.8 M1249.4,582.8 h14.8 M1256.8,575.4 v14.8 M1249.4,588.6 h14.8 M1256.8,581.2 v14.8 M1267.2,531.9 h14.8 M1274.6,524.5 v14.8 M1267.2,541.4 h14.8 M1274.6,534.0 v14.8 M1267.2,552.2 h14.8 M1274.6,544.8 v14.8 M1267.2,575.8 h14.8 M1274.6,568.4 v14.8 M1267.2,604.5 h14.8 M1274.6,597.1 v14.8 M1267.2,621.2 h14.8 M1274.6,613.8 v14.8 M1286.4,538.2 h14.8 M1293.8,530.8 v14.8 M1286.4,544.6 h14.8 M1293.8,537.2 v14.8 M1286.4,551.6 h14.8 M1293.8,544.2 v14.8 M1286.4,557.3 h14.8 M1293.8,549.9 v14.8 M1286.4,572.6 h14.8 M1293.8,565.2 v14.8 M1286.4,586.7 h14.8 M1293.8,579.3 v14.8 M1286.4,605.1 h14.8 M1293.8,597.7 v14.8 M1287.0,641.0 h14.8 M1294.4,633.6 v14.8 M1287.0,643.5 h14.8 M1294.4,636.1 v14.8 M1287.0,649.9 h14.8 M1294.4,642.5 v14.8 M1287.0,659.5 h14.8 M1294.4,652.1 v14.8 M1287.0,672.8 h14.8 M1294.4,665.4 v14.8 M1287.0,675.4 h14.8 M1294.4,668.0 v14.8 M1287.0,635.9 h14.8 M1294.4,628.5 v14.8 M1296.6,711.1 h14.8 M1304.0,703.7 v14.8 M923.6,506.0 h14.8 M931.0,498.6 v14.8 M928.6,514.0 h14.8 M936.0,506.6 v14.8 M919.6,520.0 h14.8 M927.0,512.6 v14.8 M930.6,526.0 h14.8 M938.0,518.6 v14.8 M952.6,515.0 h14.8 M960.0,507.6 v14.8 M960.6,520.0 h14.8 M968.0,512.6 v14.8 M956.6,511.0 h14.8 M964.0,503.6 v14.8 M950.6,524.0 h14.8 M958.0,516.6 v14.8 M1044.6,530.0 h14.8 M1052.0,522.6 v14.8 M1048.6,533.0 h14.8 M1056.0,525.6 v14.8 M1052.6,537.0 h14.8 M1060.0,529.6 v14.8 M1056.6,540.0 h14.8 M1064.0,532.6 v14.8 M1042.6,540.0 h14.8 M1050.0,532.6 v14.8 M1047.6,543.0 h14.8 M1055.0,535.6 v14.8 M1054.6,546.0 h14.8 M1062.0,538.6 v14.8 M1060.6,543.0 h14.8 M1068.0,535.6 v14.8 M1039.6,565.0 h14.8 M1047.0,557.6 v14.8 M1044.6,568.0 h14.8 M1052.0,560.6 v14.8 M1049.6,571.0 h14.8 M1057.0,563.6 v14.8 M1054.6,574.0 h14.8 M1062.0,566.6 v14.8 M1058.6,578.0 h14.8 M1066.0,570.6 v14.8 M1052.6,582.0 h14.8 M1060.0,574.6 v14.8 M1056.6,585.0 h14.8 M1064.0,577.6 v14.8 M1062.6,572.0 h14.8 M1070.0,564.6 v14.8 M1047.6,577.0 h14.8 M1055.0,569.6 v14.8 M1283.6,641.0 h14.8 M1291.0,633.6 v14.8 M1290.6,645.0 h14.8 M1298.0,637.6 v14.8 M1288.6,652.0 h14.8 M1296.0,644.6 v14.8 M1292.6,660.0 h14.8 M1300.0,652.6 v14.8 M1283.6,668.0 h14.8 M1291.0,660.6 v14.8 M1289.6,677.0 h14.8 M1297.0,669.6 v14.8" stroke="#ec008c" stroke-width="3.1" fill="none" />
<path d="M297.9,451.3 h9.2 v9.2 h-9.2 Z M314.5,451.7 h9.2 v9.2 h-9.2 Z M331.2,460.0 h9.2 v9.2 h-9.2 Z M365.8,469.4 h9.2 v9.2 h-9.2 Z M398.3,480.7 h9.2 v9.2 h-9.2 Z M465.6,491.6 h9.2 v9.2 h-9.2 Z M499.3,482.6 h9.2 v9.2 h-9.2 Z M516.3,471.5 h9.2 v9.2 h-9.2 Z M566.4,514.0 h9.2 v9.2 h-9.2 Z M600.1,510.3 h9.2 v9.2 h-9.2 Z M616.8,469.3 h9.2 v9.2 h-9.2 Z M634.0,499.7 h9.2 v9.2 h-9.2 Z M650.3,489.7 h9.2 v9.2 h-9.2 Z M784.8,479.0 h9.2 v9.2 h-9.2 Z M852.0,528.4 h9.2 v9.2 h-9.2 Z M834.6,538.0 h9.2 v9.2 h-9.2 Z M868.9,540.2 h9.2 v9.2 h-9.2 Z M885.2,529.2 h9.2 v9.2 h-9.2 Z M902.1,598.5 h9.2 v9.2 h-9.2 Z M768.2,594.8 h9.2 v9.2 h-9.2 Z M935.4,511.4 h9.2 v9.2 h-9.2 Z M953.0,522.3 h9.2 v9.2 h-9.2 Z M969.3,524.5 h9.2 v9.2 h-9.2 Z M986.2,520.8 h9.2 v9.2 h-9.2 Z M1003.2,520.1 h9.2 v9.2 h-9.2 Z M1053.4,531.9 h9.2 v9.2 h-9.2 Z M1070.0,543.7 h9.2 v9.2 h-9.2 Z M1036.4,568.0 h9.2 v9.2 h-9.2 Z M1154.1,517.1 h9.2 v9.2 h-9.2 Z M1169.4,568.0 h9.2 v9.2 h-9.2 Z M1204.4,548.9 h9.2 v9.2 h-9.2 Z M1254.7,543.8 h9.2 v9.2 h-9.2 Z M1287.9,584.6 h9.2 v9.2 h-9.2 Z M1271.7,622.4 h9.2 v9.2 h-9.2 Z" fill="#ed1c24"/>
<line x1="875.0" y1="560.3" x2="921.5" y2="576.6" stroke="#2f4a9e" stroke-width="5" />
<line x1="875.0" y1="571.4" x2="921.5" y2="581.7" stroke="#62c6da" stroke-width="5" />
<line x1="932.5" y1="529.0" x2="1275.3" y2="588.6" stroke="#2f4a9e" stroke-width="5.4" stroke-linecap="round"/>
<line x1="932.5" y1="531.0" x2="1275.3" y2="609.0" stroke="#62c6da" stroke-width="5.4" stroke-linecap="round"/>
<circle cx="922.5" cy="530.8" r="11.8" fill="#000"/>
<circle cx="922.5" cy="531.2" r="3.3" fill="#ed1c24"/>
<path d="M923,528.5 L925.5,530 L924,532 Z" fill="#62c6da"/>
<line x1="921.0" y1="485.8" x2="921.0" y2="514.1" stroke="#000" stroke-width="2.8" />
<path d="M921.0,516.1 L913.2,499.1 L921.0,503.9 L928.8,499.1 Z" fill="#000"/>
<text x="842.2" y="476.2" font-size="36" fill="#231f20" textLength="173.6" lengthAdjust="spacingAndGlyphs" >Knickpoint</text>
<text x="423.5" y="581.0" font-size="27" fill="#231f20" textLength="159.3" lengthAdjust="spacingAndGlyphs" >θ = 0.74±2.5</text>
<text x="423.5" y="612.0" font-size="27" fill="#231f20" textLength="16.0" lengthAdjust="spacingAndGlyphs" >K</text>
<text x="441.5" y="618.5" font-size="19" fill="#231f20" textLength="11.0" lengthAdjust="spacingAndGlyphs" >S</text>
<text x="452.5" y="612.0" font-size="27" fill="#231f20" textLength="152.0" lengthAdjust="spacingAndGlyphs" >=1.16 e +04</text>
<text x="423.5" y="655.0" font-size="27" fill="#231f20" textLength="16.5" lengthAdjust="spacingAndGlyphs" >R</text>
<text x="442.5" y="643.5" font-size="17" fill="#231f20" textLength="8.5" lengthAdjust="spacingAndGlyphs" >2</text>
<text x="460.5" y="655.0" font-size="27" fill="#231f20" textLength="81.0" lengthAdjust="spacingAndGlyphs" >: 0.066</text>
<text x="423.5" y="686.7" font-size="27" fill="#231f20" textLength="14.0" lengthAdjust="spacingAndGlyphs" >θ</text>
<text x="439.3" y="692.5" font-size="20" fill="#231f20" textLength="27.0" lengthAdjust="spacingAndGlyphs" >ref</text>
<text x="473.4" y="686.7" font-size="27" fill="#231f20" textLength="76.3" lengthAdjust="spacingAndGlyphs" >= 0.45</text>
<path d="M612.0,562.0 Q620.5,562.0 620.5,572.0 L620.5,611.0 Q620.5,621.0 629.0,621.0 Q620.5,621.0 620.5,631.0 L620.5,670.0 Q620.5,680.0 612.0,680.0" stroke="#231f20" stroke-width="5.6" fill="none" stroke-linecap="round"/>
<rect x="611.5" y="559.2" width="5" height="6.5" rx="1.5" fill="#231f20"/>
<rect x="611.5" y="676.3" width="5" height="6.5" rx="1.5" fill="#231f20"/>
<text x="940.6" y="625.5" font-size="27" fill="#231f20" textLength="174.8" lengthAdjust="spacingAndGlyphs" >θ = 0.33±0.06</text>
<text x="940.6" y="657.2" font-size="27" fill="#231f20" textLength="16.0" lengthAdjust="spacingAndGlyphs" >K</text>
<text x="958.5" y="663.5" font-size="19" fill="#231f20" textLength="11.0" lengthAdjust="spacingAndGlyphs" >S</text>
<text x="968.7" y="657.2" font-size="27" fill="#231f20" textLength="69.3" lengthAdjust="spacingAndGlyphs" >=30.1</text>
<text x="940.6" y="700.6" font-size="27" fill="#231f20" textLength="16.5" lengthAdjust="spacingAndGlyphs" >R</text>
<text x="958.2" y="689.0" font-size="17" fill="#231f20" textLength="8.5" lengthAdjust="spacingAndGlyphs" >2</text>
<text x="975.8" y="700.6" font-size="27" fill="#231f20" textLength="64.5" lengthAdjust="spacingAndGlyphs" >: 0.53</text>
<text x="940.6" y="731.2" font-size="27" fill="#231f20" textLength="14.0" lengthAdjust="spacingAndGlyphs" >θ</text>
<text x="955.8" y="737.0" font-size="20" fill="#231f20" textLength="25.8" lengthAdjust="spacingAndGlyphs" >ref</text>
<text x="989.9" y="731.2" font-size="27" fill="#231f20" textLength="76.3" lengthAdjust="spacingAndGlyphs" >= 0.45</text>
<path d="M1139.5,618.0 Q1146.8,618.0 1146.8,628.0 L1146.8,665.8 Q1146.8,675.8 1154.0,675.8 Q1146.8,675.8 1146.8,685.8 L1146.8,723.5 Q1146.8,733.5 1139.5,733.5" stroke="#231f20" stroke-width="5.6" fill="none" stroke-linecap="round"/>
<rect x="1139.0" y="615.2" width="5" height="6.5" rx="1.5" fill="#231f20"/>
<rect x="1139.0" y="729.8" width="5" height="6.5" rx="1.5" fill="#231f20"/>
<text x="641.4" y="626.4" font-size="26" fill="#231f20" textLength="15.5" lengthAdjust="spacingAndGlyphs" >K</text>
<text x="656.5" y="632.0" font-size="23" fill="#231f20" textLength="24.6" lengthAdjust="spacingAndGlyphs" >sn</text>
<text x="682.3" y="626.4" font-size="26" fill="#231f20" textLength="63.4" lengthAdjust="spacingAndGlyphs" >=58.7</text>
<line x1="750.4" y1="620.7" x2="857.1" y2="586.2" stroke="#231f20" stroke-width="2.4" />
<path d="M867.8,582.8 L856.0,591.9 L852.9,582.3 Z" fill="#231f20"/>
<text x="1164.7" y="685.4" font-size="26" fill="#231f20" textLength="15.5" lengthAdjust="spacingAndGlyphs" >K</text>
<text x="1178.8" y="691.2" font-size="23" fill="#231f20" textLength="25.8" lengthAdjust="spacingAndGlyphs" >sn</text>
<text x="1205.8" y="685.4" font-size="26" fill="#231f20" textLength="58.7" lengthAdjust="spacingAndGlyphs" >=269</text>
<line x1="1215.8" y1="660.7" x2="1237.1" y2="618.5" stroke="#231f20" stroke-width="2.4" />
<path d="M1242.1,608.5 L1240.3,623.3 L1231.3,618.8 Z" fill="#231f20"/>
<text x="589.5" y="753.3" font-size="35" fill="#231f20" textLength="290.0" lengthAdjust="spacingAndGlyphs" >Drainage area (m</text>
<text x="881.0" y="734.0" font-size="24" fill="#231f20" textLength="13.0" lengthAdjust="spacingAndGlyphs" >2</text>
<text x="895.5" y="753.3" font-size="35" fill="#231f20" textLength="11.6" lengthAdjust="spacingAndGlyphs" >)</text>
<text x="132.5" y="739.4" font-size="35.5" fill="#000" font-weight="bold" textLength="249.5" lengthAdjust="spacingAndGlyphs" >Channel No. 16</text>
<line x1="115.0" y1="904.8" x2="1452.0" y2="904.8" stroke="#555" stroke-width="2.2" stroke-dasharray="12.5,12.7"/>
<line x1="125.0" y1="1159.0" x2="1452.0" y2="1159.0" stroke="#808080" stroke-width="2.4" stroke-dasharray="12.7,12.5"/>
<line x1="109.4" y1="850.0" x2="109.4" y2="1180.2" stroke="#231f20" stroke-width="3" />
<line x1="108.0" y1="1178.8" x2="1454.0" y2="1178.8" stroke="#231f20" stroke-width="3" />
<line x1="109.4" y1="1100.9" x2="124.5" y2="1100.9" stroke="#231f20" stroke-width="2.6" />
<line x1="109.4" y1="1024.3" x2="124.5" y2="1024.3" stroke="#231f20" stroke-width="2.6" />
<line x1="109.4" y1="947.7" x2="124.5" y2="947.7" stroke="#231f20" stroke-width="2.6" />
<line x1="109.4" y1="871.1" x2="124.5" y2="871.1" stroke="#231f20" stroke-width="2.6" />
<line x1="1452.6" y1="1178.8" x2="1452.6" y2="1164.2" stroke="#231f20" stroke-width="2.6" />
<line x1="1363.1" y1="1178.8" x2="1363.1" y2="1164.2" stroke="#231f20" stroke-width="2.6" />
<line x1="1273.6" y1="1178.8" x2="1273.6" y2="1164.2" stroke="#231f20" stroke-width="2.6" />
<line x1="1184.0" y1="1178.8" x2="1184.0" y2="1164.2" stroke="#231f20" stroke-width="2.6" />
<line x1="1094.5" y1="1178.8" x2="1094.5" y2="1164.2" stroke="#231f20" stroke-width="2.6" />
<line x1="1005.0" y1="1178.8" x2="1005.0" y2="1164.2" stroke="#231f20" stroke-width="2.6" />
<line x1="915.5" y1="1178.8" x2="915.5" y2="1164.2" stroke="#231f20" stroke-width="2.6" />
<line x1="826.0" y1="1178.8" x2="826.0" y2="1164.2" stroke="#231f20" stroke-width="2.6" />
<line x1="736.4" y1="1178.8" x2="736.4" y2="1164.2" stroke="#231f20" stroke-width="2.6" />
<line x1="646.9" y1="1178.8" x2="646.9" y2="1164.2" stroke="#231f20" stroke-width="2.6" />
<line x1="557.4" y1="1178.8" x2="557.4" y2="1164.2" stroke="#231f20" stroke-width="2.6" />
<line x1="467.9" y1="1178.8" x2="467.9" y2="1164.2" stroke="#231f20" stroke-width="2.6" />
<line x1="378.4" y1="1178.8" x2="378.4" y2="1164.2" stroke="#231f20" stroke-width="2.6" />
<line x1="288.8" y1="1178.8" x2="288.8" y2="1164.2" stroke="#231f20" stroke-width="2.6" />
<line x1="199.3" y1="1178.8" x2="199.3" y2="1164.2" stroke="#231f20" stroke-width="2.6" />
<text x="87.5" y="872.0" font-size="36" fill="#231f20" text-anchor="end" >4</text>
<text x="87.5" y="948.5" font-size="36" fill="#231f20" text-anchor="end" >3</text>
<text x="87.5" y="1025.0" font-size="36" fill="#231f20" text-anchor="end" >2</text>
<text x="87.5" y="1101.7" font-size="36" fill="#231f20" text-anchor="end" >1</text>
<text x="87.5" y="1179.5" font-size="36" fill="#231f20" text-anchor="end" >0</text>
<text x="194.8" y="1217.4" font-size="38" fill="#231f20" text-anchor="middle" >140</text>
<text x="373.9" y="1217.4" font-size="38" fill="#231f20" text-anchor="middle" >120</text>
<text x="552.9" y="1217.4" font-size="38" fill="#231f20" text-anchor="middle" >100</text>
<text x="736.4" y="1217.4" font-size="38" fill="#231f20" text-anchor="middle" >80</text>
<text x="915.5" y="1217.4" font-size="38" fill="#231f20" text-anchor="middle" >60</text>
<text x="1094.5" y="1217.4" font-size="38" fill="#231f20" text-anchor="middle" >40</text>
<text x="1273.6" y="1217.4" font-size="38" fill="#231f20" text-anchor="middle" >20</text>
<text x="1450.4" y="1217.4" font-size="38" fill="#231f20" text-anchor="middle" >0</text>
<text transform="translate(27.9,1098.2) rotate(-90)" font-size="35" fill="#231f20" textLength="224" lengthAdjust="spacingAndGlyphs">Elevation(km)</text>
<text x="541.3" y="1257.6" font-size="35" fill="#231f20" textLength="571.5" lengthAdjust="spacingAndGlyphs" >Distance from Mountain front (Km)</text>
<path d="M190.7,915.3 L270.3,925.3 L269.4,966 L182.5,949.7 Z" fill="#f3a6c8" fill-opacity="0.75"/>
<path d="M286.1,978.3 C290.1,980.8 302.8,989.2 310.2,993.4 C317.6,997.6 323.7,1000.0 330.4,1003.4 C337.1,1006.8 343.8,1010.3 350.5,1013.5 C357.2,1016.7 363.9,1019.9 370.6,1022.6 C377.3,1025.3 379.0,1025.2 390.7,1029.6 C402.4,1034.0 425.9,1043.8 441.0,1048.8 C456.1,1053.8 467.8,1056.2 481.2,1059.5 C494.6,1062.8 507.5,1065.5 521.4,1068.9 C535.3,1072.3 551.0,1077.1 564.4,1080.0 C577.8,1082.9 588.9,1084.3 601.9,1086.3 C614.9,1088.2 629.2,1090.1 642.2,1091.7 C655.2,1093.3 658.9,1092.6 680.0,1095.7 C701.1,1098.8 735.8,1106.1 768.7,1110.6 C801.6,1115.1 841.1,1119.0 877.3,1122.6 C913.5,1126.2 958.8,1129.9 986.0,1132.4 C1013.2,1134.9 1022.2,1136.0 1040.3,1137.8 C1058.4,1139.6 1072.3,1141.4 1094.6,1143.2 C1116.9,1145.0 1161.0,1147.8 1174.3,1148.7" stroke="#5cc8dc" stroke-width="2.6" fill="none" />
<path d="M135.4,902.6 L160.8,903.5 L168.0,911.7 L173.5,920.7 L180.7,928.0 L189.8,932.5 L202.4,934.3 L211.5,937.0 L220.5,941.6 L238.7,943.4 L256.8,946.1 L270.0,951.1 L280.1,954.1 L290.1,959.2 L300.2,967.2 L310.2,972.3 L320.3,976.3 L330.4,978.3 L340.4,983.3 L350.5,990.4 L360.5,996.4 L370.6,1001.4 L380.7,1007.5 L390.7,1011.5 L400.8,1015.5 L410.8,1019.5 L420.0,1022.6 L441.0,1028.7 L467.8,1036.7 L494.6,1044.7 L521.4,1054.1 L548.3,1060.8 L572.4,1067.6 L601.9,1070.2 L642.2,1072.9 L680.0,1076.9 L714.3,1079.8 L768.7,1088.9 L841.1,1096.1 L913.5,1103.4 L967.9,1110.6 L1004.1,1119.7 L1040.3,1128.7 L1094.6,1136.0 L1130.8,1141.4 L1167.0,1145.0 L1177.9,1150.0 L1219.9,1149.7 L1271.3,1150.7 L1336.4,1151.7 L1346.7,1155.8 L1401.5,1155.8 L1408.4,1159.3 L1452.9,1159.3" stroke="#ed1c24" stroke-width="7.2" fill="none" stroke-linejoin="round"/>
<path d="M190.7,915.3 L270.3,925.3 L269.4,966 L182.5,949.7 Z" fill="#f6b3d1" fill-opacity="0.45"/>
<path d="M289.4,932.5 C292.9,934.4 303.4,940.3 310.2,944.1 C317.0,947.9 323.7,951.7 330.4,955.2 C337.1,958.7 343.8,961.7 350.5,965.2 C357.2,968.7 363.9,973.1 370.6,976.3 C377.3,979.5 384.0,981.7 390.7,984.3 C397.4,986.9 402.4,988.5 410.8,991.9 C419.2,995.3 429.3,999.9 441.0,1004.5 C452.7,1009.1 467.8,1014.6 481.2,1019.3 C494.6,1024.0 507.5,1028.7 521.4,1032.7 C535.3,1036.7 551.0,1040.1 564.4,1043.4 C577.8,1046.8 588.9,1049.7 601.9,1052.8 C614.9,1055.9 629.2,1059.5 642.2,1062.2 C655.2,1064.9 658.9,1064.8 680.0,1068.9 C701.1,1073.1 735.8,1080.8 768.7,1087.1 C801.6,1093.4 841.1,1101.0 877.3,1107.0 C913.5,1113.0 958.8,1119.1 986.0,1123.3 C1013.2,1127.5 1022.2,1129.7 1040.3,1132.4 C1058.4,1135.1 1072.3,1137.0 1094.6,1139.6 C1116.9,1142.2 1161.0,1146.5 1174.3,1147.9" stroke="#2e3f9a" stroke-width="2.6" fill="none" />
<path d="M208.0,935.5 C219.3,937.1 252.3,942.4 276.0,945.0 C299.7,947.6 322.5,949.0 350.0,951.0 C377.5,953.0 406.0,955.2 441.0,957.0 C476.0,958.8 520.2,960.5 560.0,962.0 C599.8,963.5 610.0,964.0 680.0,966.0 C750.0,968.0 910.0,972.6 980.0,974.3 C1050.0,975.9 1046.7,975.2 1100.0,975.9 C1153.3,976.6 1241.8,978.0 1300.0,978.6 C1358.2,979.2 1424.6,979.3 1449.5,979.4" stroke="#7a7a7a" stroke-width="2.3" fill="none" stroke-dasharray="18.8,12"/>
<path d="M208.0,937.0 C219.3,938.9 252.3,945.2 276.0,948.5 C299.7,951.8 322.5,953.4 350.0,957.0 C377.5,960.6 406.0,966.9 441.0,970.0 C476.0,973.1 520.2,973.9 560.0,975.5 C599.8,977.1 610.0,977.5 680.0,979.5 C750.0,981.5 910.0,985.6 980.0,987.7 C1050.0,989.8 1046.7,990.8 1100.0,992.0 C1153.3,993.2 1241.8,994.0 1300.0,994.7 C1358.2,995.5 1424.6,996.2 1449.5,996.5" stroke="#7a7a7a" stroke-width="2.3" fill="none" stroke-dasharray="18.8,12"/>
<path d="M273.0,947.0 C280.8,947.8 303.8,950.3 320.0,952.0 C336.2,953.7 353.3,955.5 370.0,957.0 C386.7,958.5 401.7,959.7 420.0,961.0 C438.3,962.3 450.0,963.3 480.0,965.0 C510.0,966.7 566.7,969.5 600.0,971.0 C633.3,972.5 646.7,972.9 680.0,974.0 C713.3,975.1 750.0,976.2 800.0,977.5 C850.0,978.8 930.0,980.6 980.0,981.6 C1030.0,982.6 1046.7,982.5 1100.0,983.5 C1153.3,984.5 1241.3,986.5 1300.0,987.3 C1358.7,988.1 1426.7,988.1 1452.0,988.3" stroke="#111" stroke-width="3.4" fill="none" />
<path d="M260.4,922.9 L293.9,922.9 L277.6,949.7 Z" fill="#ed1c24"/>
<line x1="135.8" y1="1159.0" x2="135.8" y2="935.7" stroke="#4a5ba6" stroke-width="4.4" />
<path d="M135.8,904.4 L151.2,942.2 L135.8,936.7 L120.4,942.2 Z" fill="#4a5ba6"/>
<line x1="125.0" y1="1158.7" x2="147.5" y2="1158.7" stroke="#231f20" stroke-width="2.6" />
<line x1="1452.2" y1="988.0" x2="1452.2" y2="935.0" stroke="#4a5ba6" stroke-width="4.4" />
<path d="M1452.2,907.4 L1466.8,941.5 L1452.2,936.0 L1437.6,941.5 Z" fill="#4a5ba6"/>
<line x1="1439.0" y1="904.6" x2="1462.5" y2="904.6" stroke="#231f20" stroke-width="4" />
<line x1="1452.2" y1="1159.3" x2="1452.2" y2="1020.0" stroke="#e8333c" stroke-width="4.4" />
<path d="M1452.2,991.4 L1467.9,1026.5 L1452.2,1021.0 L1436.5,1026.5 Z" fill="#e8333c"/>
<line x1="212.0" y1="880.0" x2="162.4" y2="894.0" stroke="#231f20" stroke-width="2.8" />
<path d="M160.5,894.5 L177.9,882.6 L174.4,890.6 L181.6,895.6 Z" fill="#231f20"/>
<text x="223.0" y="900.3" font-size="34" fill="#000" font-weight="bold" font-style="italic" textLength="160.0" lengthAdjust="spacingAndGlyphs" >Flat divide</text>
<text x="555.5" y="936.5" font-size="33" fill="#000" font-weight="bold" font-style="italic" textLength="655.2" lengthAdjust="spacingAndGlyphs" >Reconstructed Profile through S-A analysis</text>
<text x="149.0" y="1086.6" font-size="37" fill="#2e3192" textLength="232.6" lengthAdjust="spacingAndGlyphs" >Modern Relief</text>
<text x="1225.0" y="960.8" font-size="37" fill="#2e3192" textLength="200.5" lengthAdjust="spacingAndGlyphs" >Paleo Relief</text>
<text x="1136.0" y="1083.2" font-size="37" fill="#ed1c24" textLength="290.0" lengthAdjust="spacingAndGlyphs" >Net Surface Uplift</text>
<text x="1210.0" y="1124.1" font-size="27" fill="#231f20" textLength="28.6" lengthAdjust="spacingAndGlyphs" >δz</text>
<text x="1255.5" y="1124.1" font-size="27" fill="#231f20" textLength="16.0" lengthAdjust="spacingAndGlyphs" >=</text>
<text x="1283.0" y="1124.1" font-size="27" fill="#231f20" textLength="65.0" lengthAdjust="spacingAndGlyphs" >2186</text>
<text x="1357.8" y="1124.1" font-size="27" fill="#231f20" textLength="15.3" lengthAdjust="spacingAndGlyphs" >±</text>
<text x="1380.0" y="1124.1" font-size="27" fill="#231f20" textLength="55.8" lengthAdjust="spacingAndGlyphs" >55m</text>
<line x1="140.0" y1="1331.8" x2="1449.0" y2="1331.8" stroke="#555" stroke-width="2.2" stroke-dasharray="12.5,12.7"/>
<line x1="140.8" y1="1591.0" x2="1449.0" y2="1591.0" stroke="#808080" stroke-width="2.4" stroke-dasharray="12.3,12.6"/>
<line x1="108.7" y1="1270.8" x2="108.7" y2="1605.0" stroke="#231f20" stroke-width="3" />
<line x1="107.5" y1="1603.6" x2="1450.2" y2="1603.6" stroke="#231f20" stroke-width="3" />
<line x1="108.7" y1="1528.9" x2="123.4" y2="1528.9" stroke="#231f20" stroke-width="2.6" />
<line x1="108.7" y1="1454.0" x2="123.4" y2="1454.0" stroke="#231f20" stroke-width="2.6" />
<line x1="108.7" y1="1379.1" x2="123.4" y2="1379.1" stroke="#231f20" stroke-width="2.6" />
<line x1="108.7" y1="1304.2" x2="123.4" y2="1304.2" stroke="#231f20" stroke-width="2.6" />
<line x1="283.2" y1="1603.6" x2="283.2" y2="1593.5" stroke="#231f20" stroke-width="2.6" />
<line x1="574.6" y1="1603.6" x2="574.6" y2="1593.5" stroke="#231f20" stroke-width="2.6" />
<line x1="866.0" y1="1603.6" x2="866.0" y2="1593.5" stroke="#231f20" stroke-width="2.6" />
<line x1="1157.4" y1="1603.6" x2="1157.4" y2="1593.5" stroke="#231f20" stroke-width="2.6" />
<line x1="1448.8" y1="1603.6" x2="1448.8" y2="1593.5" stroke="#231f20" stroke-width="2.6" />
<text x="87.5" y="1312.2" font-size="37" fill="#231f20" text-anchor="end" >4</text>
<text x="87.5" y="1387.1" font-size="37" fill="#231f20" text-anchor="end" >3</text>
<text x="87.5" y="1462.0" font-size="37" fill="#231f20" text-anchor="end" >2</text>
<text x="87.5" y="1536.9" font-size="37" fill="#231f20" text-anchor="end" >1</text>
<text x="87.5" y="1611.8" font-size="37" fill="#231f20" text-anchor="end" >0</text>
<text x="289.2" y="1638.7" font-size="36.5" fill="#231f20" text-anchor="middle" >20</text>
<text x="580.6" y="1638.7" font-size="36.5" fill="#231f20" text-anchor="middle" >15</text>
<text x="872.0" y="1638.7" font-size="36.5" fill="#231f20" text-anchor="middle" >10</text>
<text x="1163.4" y="1638.7" font-size="36.5" fill="#231f20" text-anchor="middle" >5</text>
<text x="1453.0" y="1638.7" font-size="36.5" fill="#231f20" text-anchor="middle" >0</text>
<text transform="translate(28.8,1535) rotate(-90)" font-size="36" fill="#231f20" textLength="236.4" lengthAdjust="spacingAndGlyphs">Elevation (km)</text>
<text x="706.5" y="1647.0" font-size="35" fill="#231f20" textLength="77.0" lengthAdjust="spacingAndGlyphs" >Chi (</text>
<text x="785.0" y="1647.0" font-size="36" fill="#231f20" font-style="italic" textLength="19.0" lengthAdjust="spacingAndGlyphs" font-family='"Liberation Serif", serif' >χ</text>
<text x="806.5" y="1647.0" font-size="35" fill="#231f20" textLength="12.0" lengthAdjust="spacingAndGlyphs" >)</text>
<path d="M139.5,1332.4 C149.8,1333.3 179.7,1336.8 201.2,1337.9 C222.7,1339.0 242.6,1338.6 268.3,1338.9 C294.0,1339.2 338.7,1339.4 355.5,1339.9 C372.3,1340.5 363.9,1341.0 368.9,1342.2 C373.9,1343.4 380.0,1345.3 385.6,1347.3 C391.2,1349.3 396.8,1352.0 402.4,1354.0 C408.0,1356.0 413.0,1357.6 419.2,1359.0 C425.4,1360.4 430.9,1361.3 439.3,1362.3 C447.7,1363.2 459.4,1363.8 469.5,1364.7 C479.6,1365.6 487.1,1366.3 500.0,1367.4 C512.9,1368.5 530.3,1370.3 547.0,1371.4 C563.7,1372.5 577.6,1372.7 600.0,1374.0 C622.4,1375.3 662.4,1377.3 681.2,1379.0 C700.0,1380.7 704.0,1382.3 713.0,1384.0 C722.0,1385.7 726.2,1386.5 734.9,1389.2 C743.6,1391.9 754.4,1396.8 765.0,1399.9 C775.6,1403.0 788.0,1405.5 798.6,1407.6 C809.2,1409.7 820.2,1410.7 828.8,1412.6 C837.4,1414.5 841.6,1416.1 850.0,1419.0 C858.4,1421.9 870.2,1427.2 879.0,1430.0 C887.8,1432.8 890.8,1432.5 902.5,1436.0 C914.2,1439.5 936.6,1447.2 949.5,1451.2 C962.4,1455.2 966.4,1456.3 980.0,1460.0 C993.6,1463.7 1018.3,1469.4 1030.9,1473.1 C1043.5,1476.8 1045.2,1479.1 1055.5,1482.4 C1065.8,1485.8 1084.3,1490.6 1092.6,1493.2 C1100.8,1495.8 1094.7,1496.0 1105.0,1497.8 C1115.3,1499.6 1136.8,1500.9 1154.3,1504.0 C1171.8,1507.1 1191.9,1512.0 1209.9,1516.4 C1227.9,1520.8 1248.4,1525.8 1262.3,1530.2 C1276.2,1534.6 1284.5,1538.5 1293.2,1542.6 C1302.0,1546.7 1306.6,1550.6 1314.8,1555.0 C1323.0,1559.4 1335.4,1565.5 1342.6,1568.8 C1349.8,1572.1 1348.2,1573.7 1358.0,1575.0 C1367.8,1576.3 1392.5,1575.5 1401.2,1576.5 C1410.0,1577.5 1402.6,1579.5 1410.5,1581.2 C1418.4,1582.9 1442.4,1585.6 1448.8,1586.5" stroke="#ff00ff" stroke-width="5.4" fill="none" stroke-linejoin="round"/>
<line x1="442.6" y1="1362.5" x2="1448.8" y2="1426.5" stroke="#000" stroke-width="2.6" />
<line x1="437.0" y1="1362.0" x2="446.0" y2="1362.8" stroke="#2e3192" stroke-width="3.2" />
<path d="M695.3,1356 L731.5,1356 L713.7,1379.1 Z" fill="#ed1c24"/>
<line x1="140.2" y1="1588.7" x2="140.2" y2="1365.0" stroke="#4a5ba6" stroke-width="4.4" />
<path d="M140.2,1334.4 L155.6,1371.5 L140.2,1366.0 L124.8,1371.5 Z" fill="#4a5ba6"/>
<line x1="1448.8" y1="1426.5" x2="1448.8" y2="1363.2" stroke="#4a5ba6" stroke-width="4.4" />
<path d="M1448.8,1334.0 L1463.8,1369.7 L1448.8,1364.2 L1433.8,1369.7 Z" fill="#4a5ba6"/>
<line x1="1435.8" y1="1331.2" x2="1460.8" y2="1331.2" stroke="#231f20" stroke-width="4" />
<line x1="1448.8" y1="1587.6" x2="1448.8" y2="1458.2" stroke="#e8333c" stroke-width="4.4" />
<path d="M1448.8,1428.2 L1463.8,1464.7 L1448.8,1459.2 L1433.8,1464.7 Z" fill="#e8333c"/>
<line x1="213.5" y1="1295.3" x2="171.0" y2="1320.0" stroke="#231f20" stroke-width="2.8" />
<path d="M169.3,1321.0 L183.2,1305.1 L181.7,1313.8 L190.0,1316.8 Z" fill="#231f20"/>
<text x="218.6" y="1314.4" font-size="34" fill="#000" font-weight="bold" font-style="italic" textLength="161.0" lengthAdjust="spacingAndGlyphs" >Flat divide</text>
<text x="563.8" y="1323.8" font-size="33" fill="#000" font-weight="bold" font-style="italic" textLength="649.2" lengthAdjust="spacingAndGlyphs" >Reconstructed Profile through chi analysis</text>
<text x="156.0" y="1484.7" font-size="37" fill="#2e3192" textLength="231.3" lengthAdjust="spacingAndGlyphs" >Modern Relief</text>
<text x="1225.0" y="1388.8" font-size="37" fill="#2e3192" textLength="200.5" lengthAdjust="spacingAndGlyphs" >Paleo Relief</text>
<text x="1136.0" y="1484.7" font-size="37" fill="#ed1c24" textLength="290.0" lengthAdjust="spacingAndGlyphs" >Net Surface Uplift</text>
<text x="1270.0" y="1524.2" font-size="27" fill="#231f20" textLength="31.0" lengthAdjust="spacingAndGlyphs" >δz</text>
<text x="1315.5" y="1524.2" font-size="27" fill="#231f20" textLength="19.5" lengthAdjust="spacingAndGlyphs" >=</text>
<text x="1342.6" y="1524.2" font-size="27" fill="#231f20" textLength="95.7" lengthAdjust="spacingAndGlyphs" >2370m</text>
</svg></body></html>
